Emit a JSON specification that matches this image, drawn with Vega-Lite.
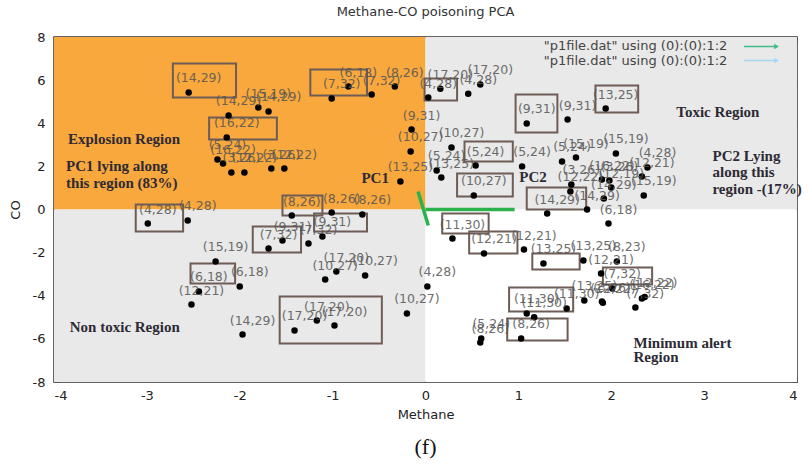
{
  "$schema": "https://vega.github.io/schema/vega-lite/v6.json",
  "width": 743,
  "height": 345,
  "autosize": {"type": "none"},
  "padding": {"left": 54, "top": 37, "right": 12, "bottom": 83},
  "background": "#ffffff",
  "config": {
    "view": {"stroke": "#333333", "strokeWidth": 1.5},
    "font": "DejaVu Sans"
  },
  "title": {"text": "Methane-CO poisoning PCA", "fontSize": 13, "fontWeight": "normal", "font": "DejaVu Sans", "color": "#333333", "offset": 12},
  "datasets": {
    "points": [
      {"x": -2.55, "y": 5.43, "label": "(14,29)"},
      {"x": -2.12, "y": 4.36, "label": "(14,29)"},
      {"x": -1.80, "y": 4.73, "label": "(15,19)"},
      {"x": -1.69, "y": 4.55, "label": "(14,29)"},
      {"x": -2.14, "y": 3.34, "label": "(16,22)"},
      {"x": -2.24, "y": 2.32, "label": "(5,24)"},
      {"x": -2.18, "y": 2.13, "label": "(16,22)"},
      {"x": -2.09, "y": 1.72, "label": "(3,26)"},
      {"x": -1.95, "y": 1.72, "label": "(12,22)"},
      {"x": -1.66, "y": 1.90, "label": "(3,26)"},
      {"x": -1.52, "y": 1.90, "label": "(12,22)"},
      {"x": -1.01, "y": 5.15, "label": "(7,32)"},
      {"x": -0.83, "y": 5.70, "label": "(6,18)"},
      {"x": -0.58, "y": 5.33, "label": "(7,32)"},
      {"x": -0.33, "y": 5.70, "label": "(8,26)"},
      {"x": 0.03, "y": 5.19, "label": "(4,28)"},
      {"x": 0.16, "y": 5.60, "label": "(17,20)"},
      {"x": 0.46, "y": 5.37, "label": "(4,28)"},
      {"x": 0.59, "y": 5.80, "label": "(17,20)"},
      {"x": -0.15, "y": 3.71, "label": "(9,31)"},
      {"x": -0.16, "y": 2.69, "label": "(10,27)"},
      {"x": -0.27, "y": 1.30, "label": "(13,25)"},
      {"x": 0.28, "y": 2.88, "label": "(10,27)"},
      {"x": 0.12, "y": 1.81, "label": "(5,24)"},
      {"x": 0.17, "y": 1.48, "label": "(13,25)"},
      {"x": 0.54, "y": 2.04, "label": "(5,24)"},
      {"x": 0.52, "y": 0.65, "label": "(10,27)"},
      {"x": 1.04, "y": 2.00, "label": "(5,24)"},
      {"x": 1.09, "y": 3.99, "label": "(9,31)"},
      {"x": 1.53, "y": 4.17, "label": "(9,31)"},
      {"x": 1.94, "y": 4.68, "label": "(13,25)"},
      {"x": 1.47, "y": 2.23, "label": "(5,24)"},
      {"x": 1.62, "y": 2.41, "label": "(15,19)"},
      {"x": 2.05, "y": 2.60, "label": "(15,19)"},
      {"x": 1.57, "y": 1.16, "label": "(3,26)"},
      {"x": 1.56, "y": 0.84, "label": "(12,22)"},
      {"x": 1.90, "y": 1.39, "label": "(16,22)"},
      {"x": 1.98, "y": 1.34, "label": "(3,26)"},
      {"x": 2.00, "y": 1.02, "label": "(12,19)"},
      {"x": 1.92, "y": 0.51, "label": "(14,29)"},
      {"x": 2.33, "y": 1.53, "label": "(12,21)"},
      {"x": 2.39, "y": 1.95, "label": "(4,28)"},
      {"x": 2.35, "y": 0.65, "label": "(15,19)"},
      {"x": 1.31, "y": -0.19, "label": "(14,29)"},
      {"x": 1.74, "y": 0.00, "label": "(14,29)"},
      {"x": 1.97, "y": -0.65, "label": "(6,18)"},
      {"x": 0.29, "y": -1.35, "label": "(11,30)"},
      {"x": 0.63, "y": -2.04, "label": "(12,21)"},
      {"x": 1.06, "y": -1.86, "label": "(12,21)"},
      {"x": 1.27, "y": -2.50, "label": "(13,25)"},
      {"x": 1.70, "y": -2.36, "label": "(13,25)"},
      {"x": 2.06, "y": -2.41, "label": "(8,23)"},
      {"x": 1.89, "y": -2.97, "label": "(12,21)"},
      {"x": 2.01, "y": -3.66, "label": "(7,32)"},
      {"x": 2.33, "y": -4.13, "label": "(16,22)"},
      {"x": 2.36, "y": -4.06, "label": "(12,22)"},
      {"x": 2.26, "y": -4.55, "label": "(7,32)"},
      {"x": 1.71, "y": -4.22, "label": "(13,25)"},
      {"x": 1.90, "y": -4.27, "label": "(3,26)"},
      {"x": 1.91, "y": -4.33, "label": "(12,22)"},
      {"x": 1.52, "y": -4.59, "label": "(11,30)"},
      {"x": 1.09, "y": -4.82, "label": "(11,30)"},
      {"x": 1.17, "y": -5.00, "label": "(11,30)"},
      {"x": 1.03, "y": -5.98, "label": "(8,26)"},
      {"x": 0.60, "y": -5.98, "label": "(5,24)"},
      {"x": 0.59, "y": -6.17, "label": "(8,26)"},
      {"x": 0.02, "y": -3.57, "label": "(4,28)"},
      {"x": -2.99, "y": -0.65, "label": "(4,28)"},
      {"x": -2.56, "y": -0.51, "label": "(4,28)"},
      {"x": -1.44, "y": -0.28, "label": "(8,26)"},
      {"x": -1.01, "y": -0.14, "label": "(8,26)"},
      {"x": -0.68, "y": -0.23, "label": "(8,26)"},
      {"x": -1.11, "y": -1.25, "label": "(9,31)"},
      {"x": -1.26, "y": -1.58, "label": "(7,32)"},
      {"x": -1.54, "y": -1.44, "label": "(9,31)"},
      {"x": -1.69, "y": -1.81, "label": "(7,32)"},
      {"x": -2.26, "y": -2.41, "label": "(15,19)"},
      {"x": -2.00, "y": -3.57, "label": "(6,18)"},
      {"x": -2.44, "y": -3.80, "label": "(6,18)"},
      {"x": -2.52, "y": -4.41, "label": "(12,21)"},
      {"x": -1.97, "y": -5.80, "label": "(14,29)"},
      {"x": -1.41, "y": -5.61, "label": "(17,20)"},
      {"x": -1.17, "y": -5.15, "label": "(17,20)"},
      {"x": -0.98, "y": -5.38, "label": "(17,20)"},
      {"x": -1.08, "y": -3.25, "label": "(10,27)"},
      {"x": -0.96, "y": -2.88, "label": "(17,20)"},
      {"x": -0.65, "y": -3.06, "label": "(10,27)"},
      {"x": -0.20, "y": -4.82, "label": "(10,27)"}
    ],
    "quadrants": [
      {"x": -4, "x2": 0, "y": 0, "y2": 8, "region": "explosion"},
      {"x": 0, "x2": 4, "y": 0, "y2": 8, "region": "toxic"},
      {"x": -4, "x2": 0, "y": -8, "y2": 0, "region": "nontoxic"},
      {"x": 0, "x2": 4, "y": -8, "y2": 0, "region": "minimum"}
    ],
    "boxes": [
      {"x": -2.72, "x2": -2.04, "y": 6.77, "y2": 5.19},
      {"x": -1.24, "x2": -0.63, "y": 6.49, "y2": 5.29},
      {"x": -2.33, "x2": -1.60, "y": 4.27, "y2": 3.25},
      {"x": -1.54, "x2": -1.11, "y": 0.65, "y2": -0.28},
      {"x": -3.12, "x2": -2.61, "y": 0.23, "y2": -1.02},
      {"x": -1.20, "x2": -0.63, "y": -0.19, "y2": -1.02},
      {"x": -1.86, "x2": -1.34, "y": -0.79, "y2": -1.99},
      {"x": -2.53, "x2": -2.05, "y": -2.50, "y2": -3.43},
      {"x": -1.57, "x2": -0.47, "y": -4.04, "y2": -6.22},
      {"x": -0.01, "x2": 0.34, "y": 6.08, "y2": 5.06},
      {"x": 0.42, "x2": 0.94, "y": 3.15, "y2": 2.23},
      {"x": 0.34, "x2": 0.94, "y": 1.67, "y2": 0.60},
      {"x": 0.18, "x2": 0.68, "y": -0.19, "y2": -1.11},
      {"x": 0.97, "x2": 1.42, "y": 5.33, "y2": 3.57},
      {"x": 1.83, "x2": 2.29, "y": 5.75, "y2": 4.50},
      {"x": 1.09, "x2": 1.73, "y": 1.02, "y2": 0.0},
      {"x": 0.47, "x2": 0.99, "y": -1.02, "y2": -2.04},
      {"x": 1.15, "x2": 1.66, "y": -2.04, "y2": -2.78},
      {"x": 1.91, "x2": 2.44, "y": -2.69, "y2": -3.48},
      {"x": 0.90, "x2": 1.59, "y": -3.62, "y2": -4.73},
      {"x": 0.88, "x2": 1.53, "y": -5.06, "y2": -6.08}
    ],
    "notes": [
      {"x": -3.85, "y": 3.25, "text": "Explosion Region"},
      {"x": -3.87, "y": 2.0, "text": "PC1 lying along"},
      {"x": -3.87, "y": 1.21, "text": "this region  (83%)"},
      {"x": -3.83, "y": -5.47, "text": "Non toxic Region"},
      {"x": 2.70, "y": 4.5, "text": "Toxic Region"},
      {"x": 3.09, "y": 2.46, "text": "PC2 Lying"},
      {"x": 3.09, "y": 1.72, "text": "along this"},
      {"x": 3.09, "y": 0.97, "text": "region -(17%)"},
      {"x": 2.24, "y": -6.17, "text": "Minimum alert"},
      {"x": 2.24, "y": -6.86, "text": "Region"},
      {"x": -0.69, "y": 1.44, "text": "PC1"},
      {"x": 1.01, "y": 1.53, "text": "PC2"}
    ],
    "vectors": [
      {"x": 0.0, "y": 0.0, "x2": 0.96, "y2": 0.0},
      {"x": -0.08, "y": 0.84, "x2": 0.03, "y2": -0.74}
    ],
    "legend": [
      {"x": 3.25, "y": 7.56, "x2": 3.78, "y2": 7.56, "x1": 3.43, "text": "\"p1file.dat\" using (0):(0):1:2", "series": "a"},
      {"x": 3.25, "y": 6.91, "x2": 3.78, "y2": 6.91, "x1": 3.43, "text": "\"p1file.dat\" using (0):(0):1:2", "series": "b"}
    ],
    "caption": [
      {"x": 0.0, "y": -11.0, "text": "(f)"}
    ]
  },
  "resolve": {"axis": {"x": "independent", "y": "independent"}},
  "encoding": {
    "x": {"field": "x", "type": "quantitative", "scale": {"domain": [-4, 4], "nice": false, "zero": false}, "axis": null},
    "y": {"field": "y", "type": "quantitative", "scale": {"domain": [-8, 8], "nice": false, "zero": false}, "axis": null}
  },
  "layer": [
    {
      "data": {"name": "quadrants"},
      "mark": {"type": "rect", "strokeWidth": 0},
      "encoding": {
        "x": {"field": "x", "type": "quantitative",
          "axis": {"orient": "bottom", "title": "Methane", "values": [-4, -3, -2, -1, 0, 1, 2, 3, 4], "labelExpr": "'' + datum.value", "grid": false, "domain": false, "tickSize": -5, "tickColor": "#555555", "labelPadding": 12, "labelFontSize": 13, "labelColor": "#222222", "titleFontSize": 13, "titleFontWeight": "normal", "titleColor": "#222222", "titlePadding": 6, "labelFont": "DejaVu Sans", "titleFont": "DejaVu Sans"}},
        "y": {"field": "y", "type": "quantitative",
          "axis": {"orient": "left", "title": "CO", "values": [-8, -6, -4, -2, 0, 2, 4, 6, 8], "labelExpr": "'' + datum.value", "grid": false, "domain": false, "tickSize": -5, "tickColor": "#555555", "labelPadding": 14, "labelFontSize": 13, "labelColor": "#222222", "titleFontSize": 13, "titleFontWeight": "normal", "titleColor": "#222222", "titlePadding": 10, "labelFont": "DejaVu Sans", "titleFont": "DejaVu Sans"}},
        "x2": {"field": "x2"},
        "y2": {"field": "y2"},
        "color": {"field": "region", "type": "nominal", "legend": null,
          "scale": {"domain": ["explosion", "toxic", "nontoxic", "minimum"], "range": ["#f8a83c", "#e9e9e9", "#e9e9e9", "#ffffff"]}}
      }
    },
    {
      "data": {"name": "boxes"},
      "mark": {"type": "rect", "fillOpacity": 0, "stroke": "#6e5d57", "strokeWidth": 2},
      "encoding": {"x2": {"field": "x2"}, "y2": {"field": "y2"}}
    },
    {
      "data": {"name": "vectors"},
      "mark": {"type": "rule", "color": "#2bb24c", "strokeWidth": 3.5},
      "encoding": {"x2": {"field": "x2"}, "y2": {"field": "y2"}}
    },
    {
      "data": {"name": "points"},
      "mark": {"type": "circle", "size": 42, "color": "#000000", "opacity": 1}
    },
    {
      "data": {"name": "points"},
      "mark": {"type": "text", "dx": 10, "dy": -14, "fontSize": 12.5, "font": "DejaVu Sans", "color": "#555555", "opacity": 0.85},
      "encoding": {"text": {"field": "label"}}
    },
    {
      "data": {"name": "notes"},
      "mark": {"type": "text", "align": "left", "baseline": "middle", "font": "Liberation Serif", "fontWeight": "bold", "fontSize": 15, "color": "#2e2a35"},
      "encoding": {"text": {"field": "text"}}
    },
    {
      "data": {"name": "legend"},
      "mark": {"type": "text", "align": "right", "baseline": "middle", "font": "DejaVu Sans", "fontSize": 13, "color": "#444444"},
      "encoding": {"text": {"field": "text"}}
    },
    {
      "data": {"name": "legend"},
      "mark": {"type": "rule", "strokeWidth": 1.5},
      "encoding": {
        "x": {"field": "x1", "type": "quantitative"},
        "x2": {"field": "x2"},
        "y2": {"field": "y2"},
        "stroke": {"field": "series", "type": "nominal", "legend": null, "scale": {"domain": ["a", "b"], "range": ["#3dbb88", "#a6d6f2"]}}
      }
    },
    {
      "data": {"name": "legend"},
      "mark": {"type": "point", "shape": "triangle-right", "filled": true, "size": 30, "opacity": 1},
      "encoding": {
        "x": {"field": "x2", "type": "quantitative"},
        "fill": {"field": "series", "type": "nominal", "legend": null, "scale": {"domain": ["a", "b"], "range": ["#3dbb88", "#a6d6f2"]}}
      }
    },
    {
      "data": {"name": "caption"},
      "mark": {"type": "text", "font": "Liberation Serif", "fontSize": 22, "color": "#111111", "baseline": "middle"},
      "encoding": {
        "text": {"field": "text"},
        "x": {"field": "x", "type": "quantitative", "axis": {"orient": "top", "labels": false, "title": null, "values": [-4, -3, -2, -1, 0, 1, 2, 3, 4], "grid": false, "domain": false, "tickSize": -5, "tickColor": "#555555"}},
        "y": {"field": "y", "type": "quantitative", "axis": {"orient": "right", "labels": false, "title": null, "values": [-8, -6, -4, -2, 0, 2, 4, 6, 8], "grid": false, "domain": false, "tickSize": -5, "tickColor": "#555555"}}
      }
    }
  ]
}
